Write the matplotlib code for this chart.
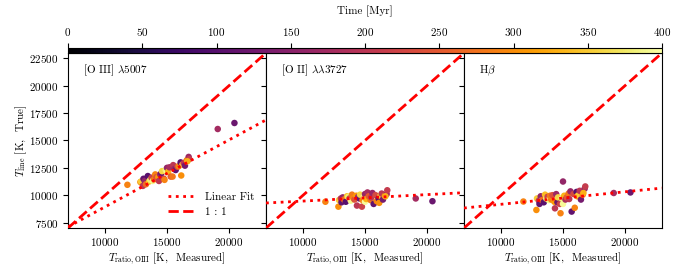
import numpy as np
import matplotlib
matplotlib.use("Agg")
import matplotlib.pyplot as plt

plt.rcParams["font.family"] = "serif"
plt.rcParams["font.serif"] = ["cmr10"]
plt.rcParams["mathtext.fontset"] = "cm"
plt.rcParams["axes.formatter.use_mathtext"] = True
plt.rcParams["font.size"] = 8

# measured T (shared by all panels) and time of each snapshot
t_meas = [11800, 12850, 12900, 13050, 13100, 13200, 13300, 13450, 13550, 13650,
          13750, 13850, 13950, 14050, 14150, 14300, 14350, 14450, 14550, 14600,
          14750, 14800, 14900, 15000, 15000, 15100, 15200, 15300, 15450, 15500,
          15600, 15700, 15850, 15950, 16100, 16150, 16250, 16350, 16450, 16600,
          16750, 16800, 16650, 19100, 20450]
time_myr = [290, 300, 350, 200, 110, 160, 270, 100, 340, 380,
            220, 390, 280, 290, 240, 310, 200, 170, 120, 360,
            220, 290, 385, 395, 160, 330, 180, 250, 280, 200,
            165, 110, 230, 290, 100, 300, 350, 200, 130, 280,
            170, 210, 330, 175, 120]

# true line temperatures
t_o3 = [10950, 11200, 11250, 10850, 11500, 11300, 11000, 11750, 11250, 11400,
        11600, 11300, 11450, 11900, 11650, 11650, 11300, 11900, 12000, 12200,
        11500, 11400, 12300, 12100, 12500, 12150, 12550, 11700, 11700, 12750,
        12400, 12300, 12600, 12650, 13000, 11800, 12800, 12950, 12700, 13200,
        13500, 13300, 13100, 16050, 16600]
t_o2 = [9400, 8950, 9550, 9700, 9350, 9800, 9600, 9400, 9900, 9850,
        9700, 9500, 10050, 9750, 9600, 9950, 9050, 9850, 9700, 10050,
        8950, 9550, 9900, 9400, 10100, 9650, 10250, 9900, 9550, 9800,
        10200, 9200, 10000, 9450, 9700, 9300, 9950, 10150, 9600, 9950,
        10100, 10450, 9900, 9700, 9450]
t_hb = [9420, 8650, 9700, 9500, 9200, 9900, 9550, 9350, 10050, 9700,
        9850, 9550, 9950, 9600, 10000, 9400, 8800, 10100, 9350, 9800,
        9200, 8350, 9700, 9200, 11250, 9950, 9600, 9800, 10150, 9650,
        10350, 8500, 10100, 8850, 10300, 9900, 10000, 10400, 9600, 10050,
        10600, 10800, 10200, 10200, 10250]

# linear fits (slope, intercept)
fit_o3 = (0.611, 2826)
fit_o2 = (0.0589, 8874)
fit_hb = (0.114, 8029)

labels = [r"[O III] $\lambda$5007", r"[O II] $\lambda\lambda$3727", r"H$\beta$"]
y_sets = [t_o3, t_o2, t_hb]
fits = [fit_o3, fit_o2, fit_hb]

lims = (7000, 23000)
xx = np.array(lims)

fig = plt.figure(figsize=(6.97, 2.70), dpi=100)
left, bottom, w, h = 68 / 697, 42 / 270, 198 / 697, 175 / 270

for i in range(3):
    ax = fig.add_axes([left + i * w, bottom, w, h])
    sc = ax.scatter(t_meas, y_sets[i], c=time_myr, cmap="inferno", vmin=0, vmax=400,
                    s=22, linewidths=0, zorder=2)
    a, b = fits[i]
    ax.plot(xx, a * xx + b, ":", color="red", lw=2, zorder=3, label="Linear Fit")
    ax.plot(xx, xx, "--", color="red", lw=2, zorder=3, label="1 : 1")
    ax.set_xlim(lims)
    ax.set_ylim(lims)
    ax.set_xticks([10000, 15000, 20000])
    ax.set_yticks(np.arange(7500, 22501, 2500))
    ax.tick_params(axis="x", pad=2.5)
    ax.set_xlabel(r"$T_{\rm ratio,OIII}$ [K,  Measured]", labelpad=1.5)
    ax.text(0.075, 0.9, labels[i], transform=ax.transAxes, va="center", ha="left")
    if i == 0:
        ax.set_ylabel(r"$T_{\rm line}$ [K,  True]", labelpad=0)
        ax.legend(loc="lower right", frameon=False, handlelength=2.6,
                  borderaxespad=0.6)
    else:
        ax.tick_params(labelleft=False)

cax = fig.add_axes([left, bottom + h, 3 * w, 5.5 / 270])
cb = fig.colorbar(sc, cax=cax, orientation="horizontal")
cax.xaxis.set_ticks_position("top")
cax.xaxis.set_label_position("top")
cb.set_ticks(np.arange(0, 401, 50))
cb.set_label("Time [Myr]", labelpad=8)

fig.savefig("out.png", dpi=100)
